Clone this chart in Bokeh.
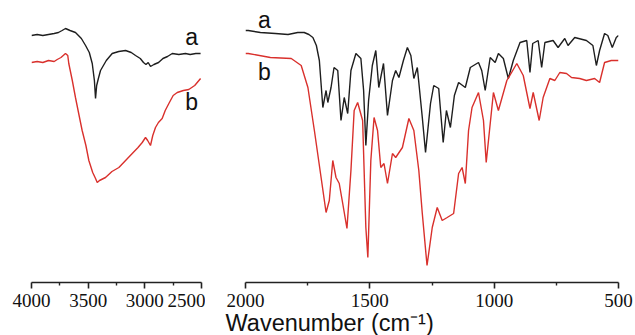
from bokeh.plotting import figure
from bokeh.models import Range1d, FixedTicker, Label, Title
from bokeh.layouts import row
from bokeh.embed import file_html
from bokeh.resources import INLINE

# ---- data (transmittance, arbitrary units) ----
wn_a_hi = [4000, 3950, 3900, 3850, 3800, 3762, 3730, 3700, 3660, 3612, 3560, 3523, 3490, 3464, 3445,
           3435, 3425, 3410, 3391, 3340, 3288, 3230, 3170, 3120, 3082, 3040, 3012, 2990, 2970, 2950,
           2920, 2879, 2840, 2800, 2758, 2700, 2641, 2600, 2550, 2508]
t_a_hi = [265, 266, 265, 266, 267, 268, 270, 272, 270, 268, 262, 255, 248, 237, 220,
          202, 215, 222, 230, 240, 247, 249, 250, 248, 245, 242, 238, 236, 238, 234,
          236, 238, 242, 244, 247, 246, 247, 246, 247, 247]

wn_b_hi = [4000, 3950, 3900, 3850, 3800, 3773, 3740, 3700, 3680, 3671, 3640, 3612, 3580, 3553, 3520,
           3494, 3460, 3435, 3420, 3400, 3347, 3290, 3229, 3170, 3111, 3060, 3023, 2994, 2975, 2950,
           2930, 2906, 2880, 2847, 2820, 2788, 2750, 2714, 2660, 2612, 2560, 2508]
t_b_hi = [238, 239, 238, 240, 239, 241, 243, 247, 245, 237, 220, 203, 185, 170, 155,
          140, 128, 122, 118, 120, 123, 129, 133, 140, 147, 153, 158, 163, 160, 155,
          165, 173, 178, 182, 190, 197, 205, 208, 210, 211, 215, 222]

wn_a_lo = [2000, 1989, 1940, 1880, 1829, 1790, 1764, 1745, 1729, 1715, 1703, 1689, 1676, 1669, 1656,
           1644, 1629, 1616, 1603, 1589, 1576, 1556, 1536, 1525, 1516, 1505, 1490, 1476, 1464, 1445,
           1429, 1409, 1396, 1383, 1365, 1349, 1335, 1323, 1309, 1289, 1276, 1256, 1243, 1223, 1205,
           1192, 1176, 1160, 1143, 1116, 1096, 1063, 1050, 1036, 1016, 996, 983, 963, 943, 923,
           896, 869, 856, 845, 823, 809, 796, 763, 743, 716, 703, 676, 629, 603, 589,
           576, 556, 543, 525, 509, 500]
t_a_lo = [270, 270, 268, 267, 266, 268, 268, 266, 263, 255, 240, 193, 210, 198, 213,
          233, 230, 180, 203, 187, 230, 247, 242, 210, 155, 200, 235, 250, 213, 237,
          185, 220, 230, 223, 240, 253, 245, 222, 233, 183, 148, 197, 215, 212, 158,
          190, 173, 205, 218, 213, 233, 238, 230, 210, 243, 238, 247, 242, 222, 240,
          258, 260, 228, 257, 260, 233, 258, 260, 253, 262, 255, 263, 260, 255, 235,
          250, 267, 265, 253, 263, 265]

wn_b_lo = [2000, 1989, 1900, 1816, 1776, 1749, 1723, 1696, 1676, 1663, 1649, 1636, 1623, 1609, 1592,
           1576, 1563, 1549, 1529, 1516, 1508, 1496, 1483, 1469, 1456, 1443, 1429, 1409, 1396, 1369,
           1343, 1323, 1303, 1289, 1270, 1249, 1229, 1209, 1189, 1163, 1143, 1129, 1116, 1103, 1089,
           1063, 1043, 1032, 1003, 983, 949, 909, 883, 856, 843, 819, 803, 776, 756, 736,
           709, 689, 656, 629, 596, 576, 556, 529, 509, 500]
t_b_lo = [247, 247, 243, 242, 235, 213, 170, 123, 88, 100, 140, 123, 117, 97, 72,
          130, 190, 198, 180, 73, 43, 140, 183, 170, 133, 137, 117, 147, 143, 153,
          182, 170, 130, 87, 35, 73, 93, 80, 83, 87, 127, 133, 117, 170, 193,
          208, 180, 138, 208, 190, 220, 237, 225, 192, 208, 180, 203, 222, 220, 228,
          227, 223, 222, 220, 222, 218, 238, 240, 240, 240]

hi_ticks = [4000, 3500, 3000, 2500]
hi_minor = [3750, 3250, 2750]
lo_ticks = [2000, 1500, 1000, 500]
lo_minor = [1750, 1250, 750]

BLACK = "#1e1e1e"
RED = "#d9302c"
Y0, Y1 = 18, 290
H = 335


def style(p, ticks, minor):
    p.xaxis.ticker = FixedTicker(ticks=ticks, minor_ticks=minor)
    p.xaxis.axis_line_color = "#222222"
    p.xaxis.axis_line_width = 1.6
    p.xaxis.major_tick_line_color = "#222222"
    p.xaxis.major_tick_line_width = 1.6
    p.xaxis.minor_tick_line_color = "#222222"
    p.xaxis.minor_tick_line_width = 1.4
    p.xaxis.major_tick_in = 0
    p.xaxis.major_tick_out = 6
    p.xaxis.minor_tick_in = 0
    p.xaxis.minor_tick_out = 3
    p.xaxis.major_label_text_font = "Liberation Serif"
    p.xaxis.major_label_text_font_size = "19px"
    p.xaxis.major_label_text_color = "#111111"
    p.xaxis.major_label_standoff = 5
    p.xgrid.visible = False
    p.ygrid.visible = False
    p.outline_line_color = None
    p.background_fill_color = "white"
    p.border_fill_color = "white"


def letter(p, x, y, s):
    p.add_layout(Label(x=x, y=y, text=s, text_font="Liberation Sans", text_font_size="23px",
                       text_align="center", text_baseline="middle", text_color="#111111"))


p1 = figure(width=205, height=H, x_range=Range1d(4000, 2500), y_range=Range1d(Y0, Y1),
            output_backend="svg", toolbar_location=None, y_axis_location=None,
            min_border_left=31, min_border_right=4, min_border_top=10, min_border_bottom=53)
style(p1, hi_ticks, hi_minor)
p1.line(wn_a_hi, t_a_hi, line_color=BLACK, line_width=1.4)
p1.line(wn_b_hi, t_b_hi, line_color=RED, line_width=1.4)
letter(p1, 2588, 264, "a")
letter(p1, 2588, 199, "b")

p2 = figure(width=430, height=H, x_range=Range1d(2000, 500), y_range=Range1d(Y0, Y1),
            output_backend="svg", toolbar_location=None, y_axis_location=None,
            min_border_left=40, min_border_right=17, min_border_top=10, min_border_bottom=53)
style(p2, lo_ticks, lo_minor)
p2.line(wn_a_lo, t_a_lo, line_color=BLACK, line_width=1.4)
p2.line(wn_b_lo, t_b_lo, line_color=RED, line_width=1.4)
letter(p2, 1924, 281, "a")
letter(p2, 1924, 229, "b")
p2.add_layout(Title(text="Wavenumber (cm\u207b\u00b9)", align="left", offset=-20, standoff=-4,
                    text_font="Liberation Sans", text_font_size="23.5px", text_font_style="normal",
                    text_color="#111111"), "below")

layout = row(p1, p2)
open("out.html", "w").write(file_html(layout, INLINE))
